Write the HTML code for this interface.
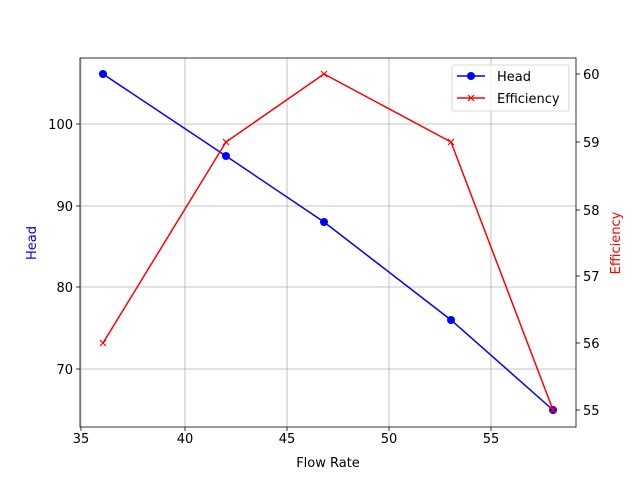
<!DOCTYPE html>
<html><head><style>body{margin:0;background:#fff}svg{display:block}</style></head><body>
<svg width="640" height="480" xmlns="http://www.w3.org/2000/svg" font-family="DejaVu Sans, Liberation Sans, sans-serif" font-size="13">
<rect width="640" height="480" fill="#fff"/>
<g stroke="#b0b0b0" stroke-width="0.8">
<line x1="185" y1="58" x2="185" y2="427"/><line x1="287" y1="58" x2="287" y2="427"/><line x1="389" y1="58" x2="389" y2="427"/><line x1="491" y1="58" x2="491" y2="427"/><line x1="81" y1="58" x2="81" y2="427"/>
<line x1="80" y1="124" x2="576" y2="124"/><line x1="80" y1="206" x2="576" y2="206"/><line x1="80" y1="287" x2="576" y2="287"/><line x1="80" y1="369" x2="576" y2="369"/>
</g>
<polyline points="103,74 226,156 324,222 451,320 553,410" fill="none" stroke="#0000ff" stroke-width="1.5"/>
<g fill="#0000ff"><circle cx="103" cy="74" r="4"/><circle cx="226" cy="156" r="4"/><circle cx="324" cy="222" r="4"/><circle cx="451" cy="320" r="4"/><circle cx="553" cy="410" r="4"/></g>
<polyline points="103,343 226,142 324,74 451,142 553,410" fill="none" stroke="#ff0000" stroke-width="1.5"/>
<g stroke="#ff0000" stroke-width="1.2">
<path d="M100,340l6,6M106,340l-6,6"/><path d="M223,139l6,6M229,139l-6,6"/><path d="M321,71l6,6M327,71l-6,6"/><path d="M448,139l6,6M454,139l-6,6"/><path d="M550,407l6,6M556,407l-6,6"/>
</g>
<rect x="80" y="58" width="496" height="369" fill="none" stroke="#000" stroke-width="0.8"/>
<g stroke="#000" stroke-width="0.8">
<line x1="81" y1="427" x2="81" y2="431"/><line x1="185" y1="427" x2="185" y2="431"/><line x1="287" y1="427" x2="287" y2="431"/><line x1="389" y1="427" x2="389" y2="431"/><line x1="491" y1="427" x2="491" y2="431"/>
<line x1="76" y1="124" x2="80" y2="124"/><line x1="76" y1="206" x2="80" y2="206"/><line x1="76" y1="287" x2="80" y2="287"/><line x1="76" y1="369" x2="80" y2="369"/>
<line x1="576" y1="74" x2="580" y2="74"/><line x1="576" y1="142" x2="580" y2="142"/><line x1="576" y1="210" x2="580" y2="210"/><line x1="576" y1="276" x2="580" y2="276"/><line x1="576" y1="343" x2="580" y2="343"/><line x1="576" y1="410" x2="580" y2="410"/>
</g>
<g text-anchor="middle">
<text x="81" y="443">35</text><text x="185" y="443">40</text><text x="287" y="443">45</text><text x="389" y="443">50</text><text x="491" y="443">55</text>
<text x="328" y="467">Flow Rate</text>
</g>
<g text-anchor="end">
<text x="73" y="129">100</text><text x="73" y="211">90</text><text x="73" y="292">80</text><text x="73" y="374">70</text>
</g>
<g>
<text x="583" y="79">60</text><text x="583" y="147">59</text><text x="583" y="215">58</text><text x="583" y="281">57</text><text x="583" y="348">56</text><text x="583" y="415">55</text>
</g>
<text transform="translate(36,243) rotate(-90)" text-anchor="middle" fill="#0000ff">Head</text>
<text transform="translate(620,243) rotate(-90)" text-anchor="middle" fill="#ff0000">Efficiency</text>
<rect x="452" y="65" width="117" height="46" rx="2" fill="#fff" fill-opacity="0.8" stroke="#ccc" stroke-width="0.8"/>
<line x1="457" y1="76" x2="485" y2="76" stroke="#0000ff" stroke-width="1.5"/><circle cx="471" cy="76" r="4" fill="#0000ff"/>
<text x="497" y="81">Head</text>
<line x1="457" y1="98" x2="485" y2="98" stroke="#ff0000" stroke-width="1.5"/>
<path d="M468,95l6,6M474,95l-6,6" stroke="#ff0000" stroke-width="1.2"/>
<text x="497" y="103">Efficiency</text>
</svg>
</body></html>
